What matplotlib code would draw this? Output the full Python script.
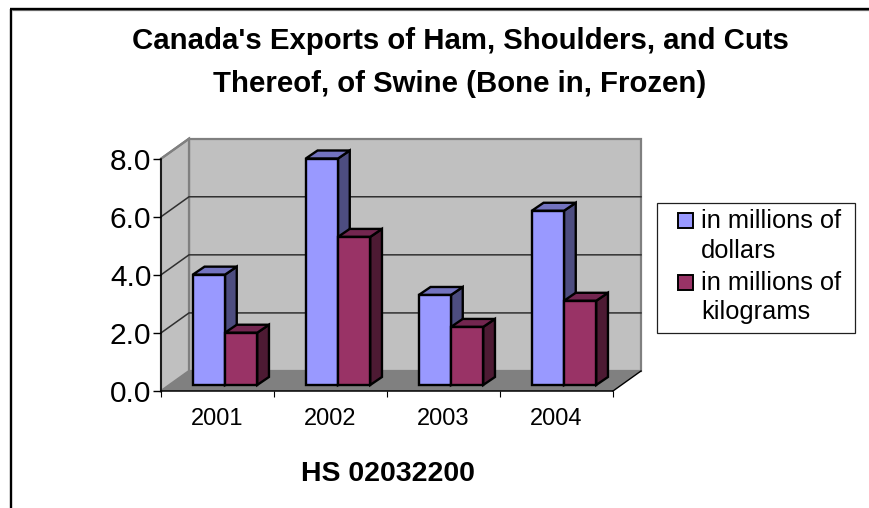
import matplotlib
matplotlib.use("Agg")
import matplotlib.pyplot as plt
from matplotlib.patches import Polygon, Rectangle
from matplotlib.lines import Line2D

years = ["2001", "2002", "2003", "2004"]
dollars = [3.8, 7.8, 3.1, 6.0]
kilograms = [1.8, 5.1, 2.0, 2.9]
yticks = [0, 2, 4, 6, 8]
title_lines = "Canada's Exports of Ham, Shoulders, and Cuts\nThereof, of Swine (Bone in, Frozen)"
xlabel = "HS 02032200"
legend_labels = ["in millions of\ndollars", "in millions of\nkilograms"]

plt.rcParams["font.family"] = ["Liberation Sans", "DejaVu Sans"]
W, H = 870, 508
fig = plt.figure(figsize=(W / 100, H / 100), dpi=100, facecolor="white")


def box(x0, y0, x1, y1):
    # pixel box (origin top left) to figure fractions
    return [x0 / W, 1 - y1 / H, (x1 - x0) / W, (y1 - y0) / H]


ax = fig.add_axes(box(161, 158.7, 613, 391))
ax.set_xlim(0, 4)
ax.set_ylim(0, 8)
ax.patch.set_visible(False)

# depth of the floor in data units
DX, DY = 28 / 113, 20 / 29.03
WALL, FLOOR, GRID = "#c0c0c0", "#808080", "#303030"
EDGE = "#808080"


def poly(pts, fc, ec="black", lw=1.7, z=2):
    ax.add_patch(Polygon(pts, closed=True, fc=fc, ec=ec, lw=lw, zorder=z,
                         clip_on=False, joinstyle="miter"))


# back wall, side wall and floor
top = yticks[-1]
poly([(DX, DY), (4 + DX, DY), (4 + DX, top + DY), (DX, top + DY)], WALL, EDGE, 1.6, 1)
poly([(0, 0), (DX, DY), (DX, top + DY), (0, top)], WALL, EDGE, 1.6, 1)
poly([(0, 0), (4, 0), (4 + DX, DY), (DX, DY)], FLOOR, "none", 0, 1.1)
ax.add_line(Line2D([0, DX], [top, top + DY], color=EDGE, lw=1.6, zorder=1.2, clip_on=False))
ax.add_line(Line2D([4, 4 + DX], [0, DY], color="black", lw=1, zorder=1.2, clip_on=False))

# gridlines run along the side wall and across the back wall
for v in yticks[1:-1]:
    ax.add_line(Line2D([0, DX, 4 + DX], [v, v + DY, v + DY], color=GRID, lw=1.1,
                       zorder=1.3, clip_on=False))


def bar3d(x, h, w, front, side, topc):
    # bar sits inside the floor depth, from 30% to 70% of it
    fx, fy = 0.30 * DX, 0.30 * DY
    bx, by = 0.72 * DX, 0.70 * DY
    x0, x1 = x + fx, x + w + fx
    poly([(x1, fy), (x1 + bx - fx, by), (x1 + bx - fx, h + by), (x1, h + fy)], side)
    poly([(x0, h + fy), (x1, h + fy), (x1 + bx - fx, h + by), (x0 + bx - fx, h + by)], topc)
    poly([(x0, fy), (x1, fy), (x1, h + fy), (x0, h + fy)], front)


BW = 0.285
for i in range(len(years)):
    left = i + 0.207
    bar3d(left, dollars[i], BW, "#9999ff", "#4d4d80", "#7373bf")
    bar3d(left + BW, kilograms[i], BW, "#993366", "#4d1a33", "#732650")

# axes, ticks and labels
for s in ("top", "right"):
    ax.spines[s].set_visible(False)
for s in ("left", "bottom"):
    ax.spines[s].set_linewidth(1.1)
    ax.spines[s].set_zorder(1.5)
ax.set_yticks(yticks, [f"{v:.1f}" for v in yticks], fontsize=21.5)
ax.tick_params(axis="y", length=5.5, width=1, pad=1.5)
ax.set_xticks(range(5), [""] * 5)
ax.set_xticks([i + 0.5 for i in range(4)], years, minor=True, fontsize=17)
ax.tick_params(axis="x", which="major", length=4.5, width=0.8)
ax.tick_params(axis="x", which="minor", length=0, pad=12)

fig.text(460 / W, 1 - 41 / H, title_lines.split("\n")[0], ha="center", va="center",
         fontsize=21.2, fontweight="bold")
fig.text(460 / W, 1 - 84 / H, title_lines.split("\n")[1], ha="center", va="center",
         fontsize=21.2, fontweight="bold")
fig.text(388 / W, 1 - 474 / H, xlabel, ha="center", va="center",
         fontsize=20.5, fontweight="bold")

# legend frame with swatches and wrapped entries
overlay = fig.add_axes([0, 0, 1, 1])
overlay.set_xlim(0, W)
overlay.set_ylim(H, 0)
overlay.axis("off")
overlay.patch.set_visible(False)
overlay.add_patch(Rectangle((656.7, 203), 198, 130, fc="white", ec="#202020", lw=0.9))
swatches = ["#9999ff", "#993366"]
for label, colour, y in zip(legend_labels, swatches, (220.5, 282.5)):
    overlay.add_patch(Rectangle((678.5, y - 7.5), 15, 15, fc=colour, ec="black", lw=1.4))
    first, second = label.split("\n")
    overlay.text(701, y + 0.5, first, fontsize=18.3, va="center", ha="left")
    overlay.text(701, y + 30, second, fontsize=18.3, va="center", ha="left")

# chart frame: dark rule down the left and along the top, soft grey edge inside
overlay.add_line(Line2D([12, W], [10.4, 10.4], color="#808080", lw=0.9, solid_capstyle="butt"))
overlay.add_line(Line2D([10.7, 10.7], [H, 9], color="black", lw=1.7, solid_capstyle="butt"))
overlay.add_line(Line2D([10, W], [9, 9], color="black", lw=1.7, solid_capstyle="butt"))

fig.savefig("out.png", dpi=100)
